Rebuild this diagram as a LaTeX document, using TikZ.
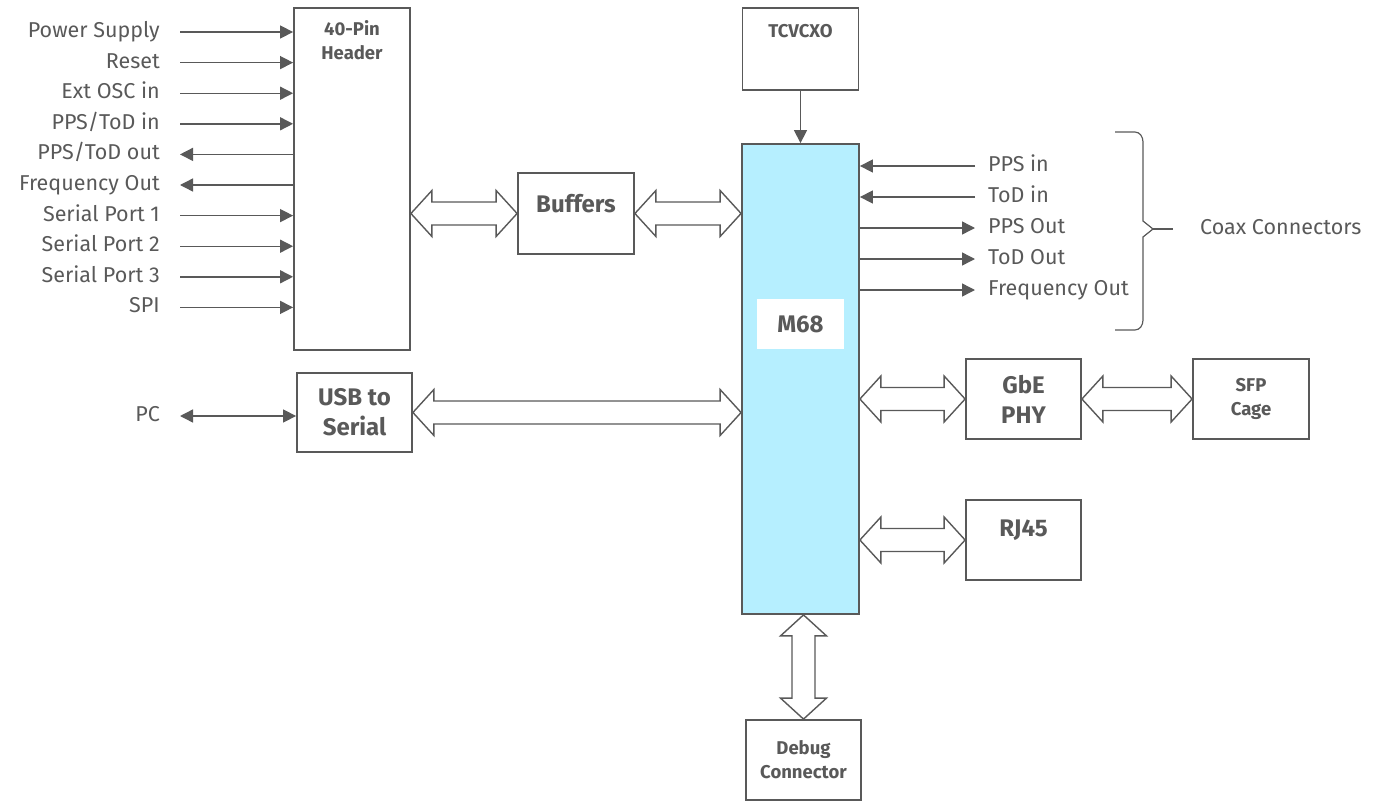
\documentclass[tikz,border=0pt]{standalone}
\usepackage{fontspec}
\setmainfont{Fira Sans}
\usetikzlibrary{arrows.meta,calc,positioning}
\definecolor{linegray}{HTML}{595959}
\definecolor{chipblue}{HTML}{B6EFFF}
\tikzset{
  blk/.style={draw=linegray, line width=1.8pt, fill=white, inner sep=0pt, text=linegray,
    align=center, font=\bfseries\fontsize{24}{30}\selectfont},
  smallb/.style={text=linegray, align=center, font=\bfseries\fontsize{18.5}{24}\selectfont},
  lbl/.style={text=linegray, inner sep=0pt, text height=15pt, text depth=4pt,
    font=\fontsize{21.5}{25}\selectfont},
  sig/.style={draw=linegray, line width=1.4pt, -{Triangle[length=13pt,width=13pt]}},
  fat/.style={draw=linegray, line width=1.4pt, fill=white, to path={
    -- ($(\tikztostart)!21pt!(\tikztotarget)!23pt!90:(\tikztotarget)$)
    -- ($(\tikztostart)!21pt!(\tikztotarget)!11.5pt!90:(\tikztotarget)$)
    -- ($(\tikztotarget)!21pt!(\tikztostart)!11.5pt!-90:(\tikztostart)$)
    -- ($(\tikztotarget)!21pt!(\tikztostart)!23pt!-90:(\tikztostart)$)
    -- (\tikztotarget)
    -- ($(\tikztotarget)!21pt!(\tikztostart)!23pt!90:(\tikztostart)$)
    -- ($(\tikztotarget)!21pt!(\tikztostart)!11.5pt!90:(\tikztostart)$)
    -- ($(\tikztostart)!21pt!(\tikztotarget)!11.5pt!-90:(\tikztotarget)$)
    -- ($(\tikztostart)!21pt!(\tikztotarget)!23pt!-90:(\tikztotarget)$)
    -- cycle}}
}
\begin{document}
\begin{tikzpicture}[x=1pt, y=-1pt]
  \useasboundingbox (0,0) rectangle (1390,803);
  % boxes
  \node[blk, minimum width=116pt, minimum height=342pt,
    label={[smallb, anchor=north, yshift=-10pt]north:40-Pin\\Header}] (hdr) at (352,179) {};
  \node[blk, minimum width=116pt, minimum height=81pt,
    label={[blk, draw=none, fill=none, yshift=10pt]center:Buffers}] (buf) at (576,213.5) {};
  \node[blk, minimum width=116pt, minimum height=82pt,
    label={[smallb, anchor=north, yshift=-14pt]north:TCVCXO}] (tcx) at (800.5,49) {};
  \node[blk, fill=chipblue, minimum width=117pt, minimum height=470pt] (m68) at (800.5,379) {};
  \node[blk, draw=none, minimum width=87pt, minimum height=50pt] (chip) at (800.5,324) {M68};
  \node[blk, minimum width=115pt, minimum height=79pt] (usb) at (354.5,412.5) {USB to\\Serial};
  \node[blk, minimum width=115pt, minimum height=80pt] (gbe) at (1023.5,399) {GbE\\PHY};
  \node[blk, smallb, minimum width=116pt, minimum height=80pt] (sfp) at (1251,399) {SFP\\Cage};
  \node[blk, minimum width=115pt, minimum height=80pt,
    label={[blk, draw=none, fill=none, yshift=10pt]center:RJ45}] (rj) at (1023.5,540) {};
  \node[blk, smallb, minimum width=115pt, minimum height=80pt] (dbg) at (803.5,760) {Debug\\Connector};

  % header pins
  \foreach \txt [count=\i from 0] in {Power Supply,Reset,Ext OSC in,PPS/ToD in,PPS/ToD out,
      Frequency Out,Serial Port 1,Serial Port 2,Serial Port 3,SPI}
    \node[lbl, anchor=east] (l\i) at (160,{32+30.6*\i}) {\txt};
  \foreach \i in {0,1,2,3,6,7,8,9}
    \draw[sig] ([xshift=20pt]l\i.east) -- (l\i -| hdr.west);
  \foreach \i in {4,5}
    \draw[sig] (l\i -| hdr.west) -- ([xshift=20pt]l\i.east);

  % PC link
  \node[lbl, anchor=east] (pc) at (160,416) {PC};
  \draw[sig, {Triangle[length=13pt,width=13pt]}-{Triangle[length=13pt,width=13pt]}]
    ([xshift=20pt]pc.east) -- (pc -| usb.west);

  % coax signals
  \foreach \txt [count=\i from 0] in {PPS in,ToD in,PPS Out,ToD Out,Frequency Out}
    \node[lbl, anchor=west] (r\i) at (988,{166+31*\i}) {\txt};
  \foreach \i in {0,1}
    \draw[sig] ([xshift=-13pt]r\i.west) -- (r\i -| m68.east);
  \foreach \i in {2,3,4}
    \draw[sig] (r\i -| m68.east) -- ([xshift=-13pt]r\i.west);

  % brace
  \coordinate (bt) at (1173,229);
  \draw[linegray, line width=1.2pt] (1115,132) -- (1135,132) to[out=0,in=90] (1143,142)
    -- (1143,221) -- (1153,229) -- (1143,237) -- (1143,320) to[out=-90,in=0] (1135,330)
    -- (1115,330);
  \draw[linegray, line width=1.2pt] (1153,229) -- (bt);
  \node[lbl, right=27pt of bt] (coax) {Coax Connectors};

  % oscillator
  \draw[sig] (tcx.south) -- (m68.north);

  % buses
  \draw[fat] (buf.west -| hdr.east) to (buf.west);
  \draw[fat] (buf.east) to (buf.east -| m68.west);
  \draw[fat] (usb.east) to (usb.east -| m68.west);
  \draw[fat] (gbe.west -| m68.east) to (gbe.west);
  \draw[fat] (gbe.east) to (sfp.west);
  \draw[fat] (rj.west -| m68.east) to (rj.west);
  \draw[fat] (dbg.north |- m68.south) to (dbg.north);
\end{tikzpicture}
\end{document}
